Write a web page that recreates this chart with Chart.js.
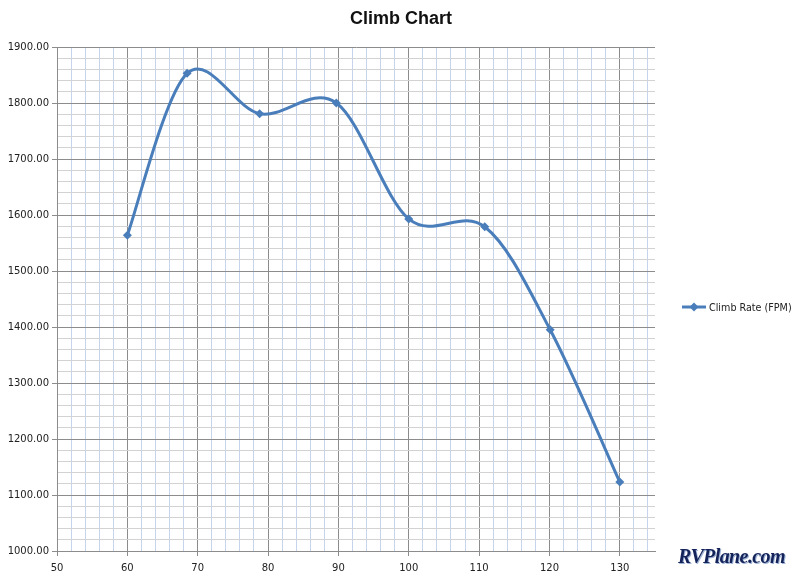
<!DOCTYPE html>
<html>
<head>
<meta charset="utf-8">
<script src="https://cdn.jsdelivr.net/npm/chart.js@4/dist/chart.umd.min.js"></script>
<style>
  html, body { margin: 0; padding: 0; background: #fff; }
  #wrap { position: relative; width: 800px; height: 578px; }
  #mark {
    position: absolute; left: 678px; top: 545px;
    font: bold italic 20px "Liberation Serif", serif;
    color: #14245a; letter-spacing: -0.6px;
    text-shadow: 1px 1px 0 #9fb3d6, -1px -1px 0 #fff;
  }
</style>
</head>
<body>
<div id="wrap">
  <canvas id="climbChart" width="800" height="578"></canvas>
  <div id="mark">RVPlane.com</div>
</div>
<script>
// Chart data
const airspeed = [60, 68.5, 78.8, 89.7, 100, 110.8, 120.1, 130];
const climbRate = [1564, 1853, 1781, 1800, 1593, 1579, 1395, 1123];
const seriesName = "Climb Rate (FPM)";
const chartTitle = "Climb Chart";

const lineBlue = "#4a7ebb";
const majorGrid = "#8c8c8c";

/**
 * Builds tick values from min to max at the given step.
 */
function stepTicks(min, max, step){
  let out = [];
  for(let v = min; v <= max; v += step){ out.push({value: v}); }
  return out;
}

/**
 * Replaces Chart.js control points with uniform Catmull-Rom ones,
 * closer to how the spreadsheet smooths its lines.
 */
const excelSmooth = {
  id: "excelSmooth",
  beforeDatasetDraw(chart, args){
    const meta = args.meta;
    const line = meta.dataset;
    if(!line){ return; }
    line.updateControlPoints(chart.chartArea);
    const pts = meta.data;
    for(let i = 0; i < pts.length; i++){
      const prev = pts[Math.max(i - 1, 0)];
      const next = pts[Math.min(i + 1, pts.length - 1)];
      const dx = (next.x - prev.x) / 6;
      const dy = (next.y - prev.y) / 6;
      pts[i].cp1x = pts[i].x - dx;
      pts[i].cp1y = pts[i].y - dy;
      pts[i].cp2x = pts[i].x + dx;
      pts[i].cp2y = pts[i].y + dy;
    }
    delete line._path;
  }
};

/**
 * Draws the title over the whole width and the legend entry at the right.
 */
const sideLegend = {
  id: "sideLegend",
  afterDraw(chart){
    const ctx = chart.ctx;
    const ds = chart.data.datasets[0];
    const y = 307;
    ctx.save();
    ctx.fillStyle = "#111";
    ctx.font = "bold 18px 'Liberation Sans'";
    ctx.textAlign = "center";
    ctx.textBaseline = "middle";
    ctx.fillText(chartTitle, 401, 19);
    ctx.textAlign = "left";
    ctx.strokeStyle = lineBlue;
    ctx.lineWidth = 3;
    ctx.beginPath();
    ctx.moveTo(682, y);
    ctx.lineTo(706, y);
    ctx.stroke();
    ctx.fillStyle = lineBlue;
    ctx.beginPath();
    ctx.moveTo(694, y - 4.5);
    ctx.lineTo(698.5, y);
    ctx.lineTo(694, y + 4.5);
    ctx.lineTo(689.5, y);
    ctx.closePath();
    ctx.fill();
    ctx.fillStyle = "#222";
    ctx.font = "9.6px 'DejaVu Sans'";
    ctx.fillText(ds.label, 709, y + 1);
    ctx.restore();
  }
};

new Chart(document.getElementById("climbChart"), {
  type: "line",
  data: {
    datasets: [{
      label: seriesName,
      data: airspeed.map((x, i) => ({x: x, y: climbRate[i]})),
      borderColor: lineBlue,
      backgroundColor: lineBlue,
      borderWidth: 3,
      tension: 0.4,
      pointStyle: "rectRot",
      pointRadius: 4.5,
      pointBorderWidth: 0,
      fill: false
    }]
  },
  options: {
    responsive: false,
    animation: false,
    layout: { padding: { left: 0, right: 145, top: 47, bottom: 0 } },
    plugins: {
      legend: { display: false },
      tooltip: { enabled: false },
      title: { display: false }
    },
    scales: {
      x: {
        type: "linear",
        min: 50,
        max: 135,
        afterBuildTicks: (scale) => { scale.ticks = stepTicks(50, 134, 2); },
        afterFit: (scale) => { scale.height = 27; },
        border: { color: majorGrid, width: 1 },
        grid: {
          tickLength: 5,
          color: (c) => (c.tick && c.tick.value % 10 === 0) ? majorGrid : "#c5d4ec",
          tickColor: (c) => (c.tick && c.tick.value % 10 === 0) ? majorGrid : "rgba(0,0,0,0)"
        },
        ticks: {
          autoSkip: false,
          maxRotation: 0,
          padding: 6,
          color: "#222",
          font: { family: "'DejaVu Sans'", size: 10 },
          callback: (v) => (v % 10 === 0 && v <= 130) ? String(v) : ""
        }
      },
      y: {
        min: 1000,
        max: 1900,
        afterBuildTicks: (scale) => { scale.ticks = stepTicks(1000, 1900, 20); },
        afterFit: (scale) => { scale.width = 57; },
        border: { color: majorGrid, width: 1 },
        grid: {
          tickLength: 5,
          color: (c) => (c.tick && c.tick.value % 100 === 0) ? majorGrid : "#d2d2d2",
          tickColor: (c) => (c.tick && c.tick.value % 100 === 0) ? majorGrid : "rgba(0,0,0,0)"
        },
        ticks: {
          autoSkip: false,
          padding: 3,
          color: "#222",
          font: { family: "'DejaVu Sans'", size: 10 },
          callback: (v) => (v % 100 === 0) ? v.toFixed(2) : ""
        }
      }
    }
  },
  plugins: [excelSmooth, sideLegend]
});
</script>
</body>
</html>
